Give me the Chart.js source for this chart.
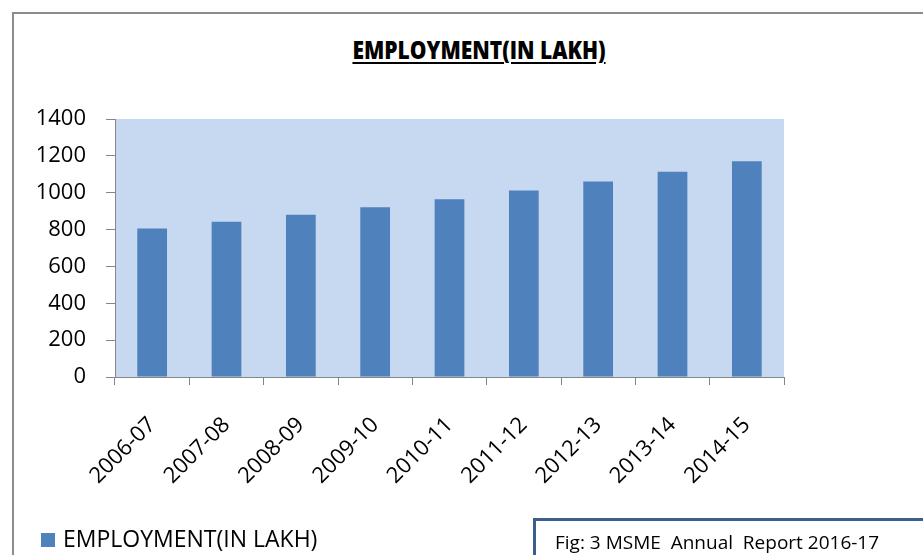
<!DOCTYPE html>
<html lang="en">
<head>
  <meta charset="UTF-8" />
  <title>EMPLOYMENT(IN LAKH)</title>
  <script src="https://cdn.jsdelivr.net/npm/chart.js"></script>
  <style>
    body {
      margin: 0;
      width: 923px;
      height: 555px;
      overflow: hidden;
      background: #fff;
      font-family: 'Open Sans', sans-serif;
    }
    .frame {
      position: absolute;
      left: 12px;
      top: 12px;
      width: 940px;
      height: 600px;
      border-left: 2px solid #8c8c8c;
      border-top: 2px solid #8c8c8c;
    }
    .titulo {
      position: absolute;
      left: 279px;
      width: 400px;
      top: 33px;
      text-align: center;
      font-weight: 800;
      font-size: 24px;
      text-decoration: underline;
      text-underline-offset: 3px;
      transform: scaleX(0.875);
      color: #000;
    }
    #grafica {
      position: absolute;
      left: 0;
      top: 0;
    }
    .leyenda {
      position: absolute;
      left: 41px;
      top: 522px;
      font-size: 23px;
      color: #000;
      display: flex;
      align-items: center;
      white-space: nowrap;
    }
    .leyenda span.caja {
      display: inline-block;
      width: 14px;
      height: 14px;
      background: #4f81bd;
      margin-right: 8px;
      margin-top: 4px;
    }
    .fuente {
      position: absolute;
      left: 533px;
      top: 518px;
      width: 420px;
      height: 60px;
      border: 3px solid #3b5e8c;
      box-sizing: border-box;
      font-size: 19px;
      padding: 8px 0 0 19px;
      white-space: pre;
      color: #000;
    }
  </style>
</head>
<body>
  <div class="frame"></div>
  <div class="titulo">EMPLOYMENT(IN LAKH)</div>
  <canvas id="grafica" width="923" height="555"></canvas>
  <div class="leyenda" id="leyenda"></div>
  <div class="fuente">Fig: 3 MSME  Annual  Report 2016-17</div>

  <script>
    const years = ["2006-07", "2007-08", "2008-09", "2009-10", "2010-11", "2011-12", "2012-13", "2013-14", "2014-15"];
    const employment = [805.23, 842.00, 880.84, 921.79, 965.15, 1011.80, 1061.40, 1114.29, 1171.32];
    const seriesName = "EMPLOYMENT(IN LAKH)";
    const yTicks = [0, 200, 400, 600, 800, 1000, 1200, 1400];

    // fondo azul claro del area de trazado
    const fondoPlot = {
      id: "fondoPlot",
      beforeDraw(chart) {
        const { ctx, chartArea } = chart;
        ctx.save();
        ctx.fillStyle = "#c6d9f1";
        ctx.fillRect(chartArea.left, chartArea.top, chartArea.right - chartArea.left, chartArea.bottom - chartArea.top);
        ctx.restore();
      }
    };

    const ctx = document.getElementById("grafica").getContext("2d");
    const chart = new Chart(ctx, {
      type: "bar",
      data: {
        labels: years,
        datasets: [{
          label: seriesName,
          data: employment,
          backgroundColor: "#4f81bd",
          borderWidth: 0,
          barPercentage: 0.4,
          categoryPercentage: 1
        }]
      },
      options: {
        responsive: false,
        animation: false,
        layout: { padding: { top: 119, right: 139, bottom: 0, left: 0 } },
        plugins: {
          legend: { display: false },
          title: { display: false },
          tooltip: { enabled: false }
        },
        scales: {
          y: {
            min: 0,
            max: 1400,
            afterBuildTicks(scale) {
              scale.ticks = yTicks.map(v => ({ value: v }));
            },
            afterFit(scale) { scale.width = 115; },
            ticks: {
              color: "#000",
              font: { family: "'Open Sans'", size: 22 },
              padding: 20,
              callback: v => String(v)
            },
            grid: {
              drawOnChartArea: false,
              drawTicks: true,
              tickLength: 9,
              color: "#868686"
            },
            border: { color: "#868686", width: 1 }
          },
          x: {
            afterFit(scale) { scale.height = 178; },
            ticks: {
              color: "#000",
              font: { family: "'Open Sans'", size: 22 },
              maxRotation: 45,
              minRotation: 45,
              padding: 27
            },
            grid: {
              offset: true,
              drawOnChartArea: false,
              drawTicks: true,
              tickLength: 8,
              color: "#868686"
            },
            border: { color: "#868686", width: 1 }
          }
        }
      },
      plugins: [fondoPlot]
    });

    document.getElementById("leyenda").innerHTML =
      `<span class="caja"></span>${chart.data.datasets[0].label}`;
  </script>
</body>
</html>
